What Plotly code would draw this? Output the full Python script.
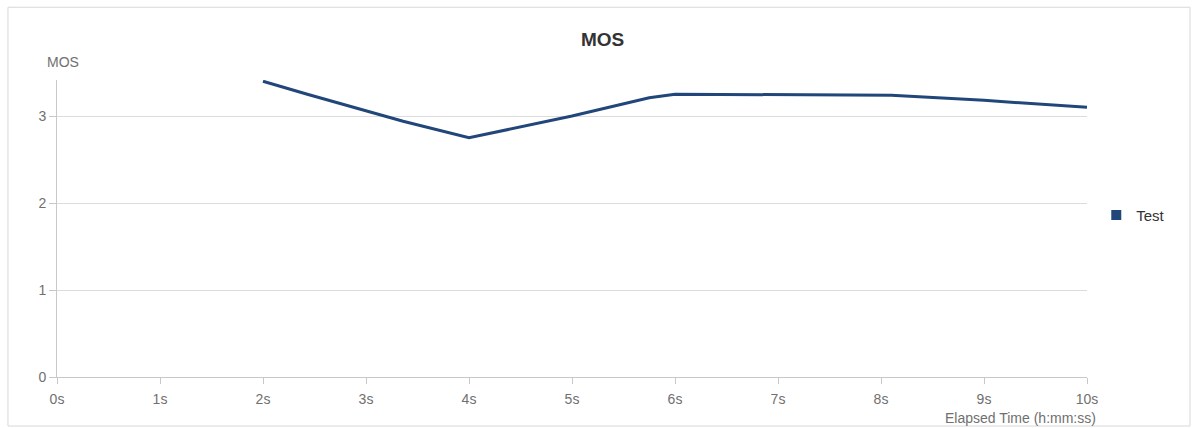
import plotly.graph_objects as go

# MOS samples over elapsed time (seconds)
elapsed_s = [2.0, 2.43, 3.36, 4.0, 5.0, 5.75, 6.0, 8.1, 9.0, 10.0]
mos = [3.40, 3.25, 2.94, 2.75, 3.00, 3.21, 3.25, 3.24, 3.18, 3.10]

x_ticks = list(range(0, 11))
x_tick_labels = [f"{t}s" for t in x_ticks]
y_ticks = [0, 1, 2, 3]

series_name = "Test"
line_color = "#21467a"
label_color = "#707070"
font_family = "Liberation Sans, Arial, sans-serif"

fig = go.Figure()
fig.add_trace(go.Scatter(
    x=elapsed_s, y=mos, mode="lines",
    line=dict(color=line_color, width=3),
    name=series_name, showlegend=False,
))
# legend entry shown as a square swatch
fig.add_trace(go.Scatter(
    x=[None], y=[None], mode="markers",
    marker=dict(symbol="square", size=10, color=line_color),
    name=series_name, showlegend=True,
))

fig.update_layout(
    width=1198, height=428,
    margin=dict(l=57, r=111, t=80, b=51),
    paper_bgcolor="white", plot_bgcolor="white",
    font=dict(family=font_family, size=14, color=label_color),
    legend=dict(x=1.009, y=0.545, xanchor="left", yanchor="middle",
                font=dict(size=15, color="#333333"), bgcolor="rgba(0,0,0,0)"),
    xaxis=dict(
        range=[0, 10], tickvals=x_ticks, ticktext=x_tick_labels,
        showgrid=False, showline=True, linecolor="#c8c8c8", linewidth=1,
        ticks="outside", ticklen=6, tickcolor="#c8c8c8",
        ticklabelstandoff=3, zeroline=False,
        tickfont=dict(size=14, color=label_color),
    ),
    yaxis=dict(
        range=[0, 3.414], tickvals=y_ticks,
        showgrid=True, gridcolor="#dcdcdc", gridwidth=1,
        showline=True, linecolor="#c8c8c8", linewidth=1,
        ticks="outside", ticklen=7, tickcolor="#c8c8c8",
        zeroline=False, tickfont=dict(size=14, color=label_color),
    ),
    annotations=[
        dict(text="<b>MOS</b>", xref="paper", yref="paper", x=0.530, y=1.135,
             xanchor="center", yanchor="middle", showarrow=False,
             font=dict(size=19, color="#333333")),
        dict(text="MOS", xref="paper", yref="paper", x=-0.0117, y=1.06,
             xanchor="left", yanchor="middle", showarrow=False,
             font=dict(size=14, color=label_color)),
        dict(text="Elapsed Time (h:mm:ss)", xref="paper", yref="paper",
             x=1.0107, y=-0.138, xanchor="right", yanchor="middle",
             showarrow=False, font=dict(size=14, color=label_color)),
    ],
    shapes=[
        dict(type="rect", xref="paper", yref="paper",
             x0=-0.0476, x1=1.1, y0=-0.165, y1=1.245,
             line=dict(color="#d8d8d8", width=1), fillcolor="rgba(0,0,0,0)",
             layer="below"),
    ],
)

fig.write_html("out.html")
